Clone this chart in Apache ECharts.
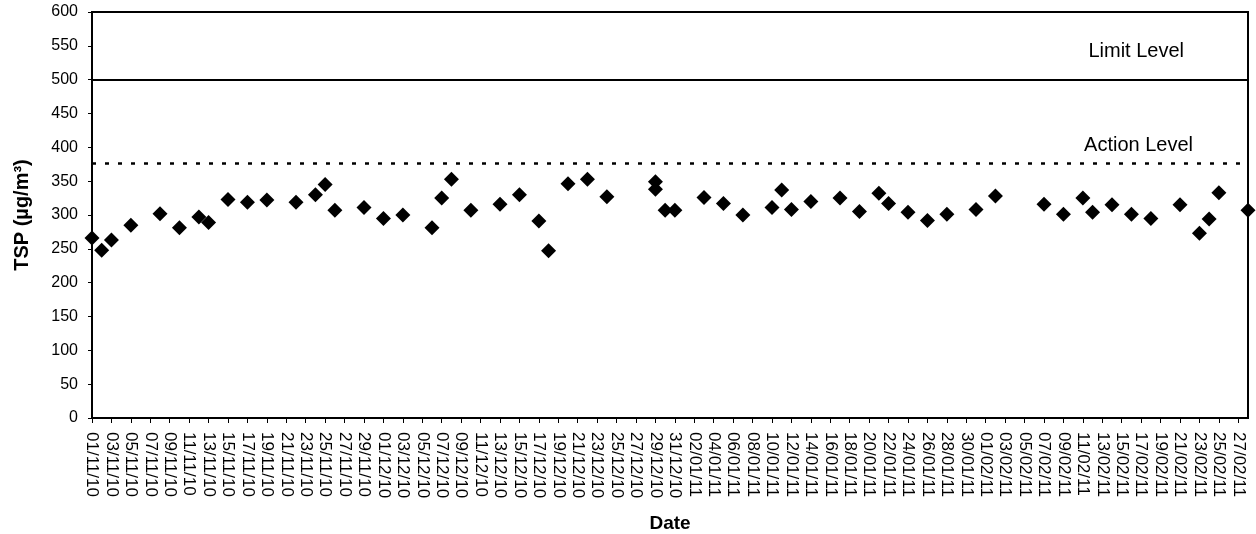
<!DOCTYPE html>
<html>
<head>
<meta charset="utf-8">
<script src="https://cdn.jsdelivr.net/npm/echarts@6/dist/echarts.min.js"></script>
<style>
  html, body { margin: 0; padding: 0; background: #fff; }
  #chart { width: 1256px; height: 534px; }
</style>
</head>
<body>
<div id="chart"></div>
<script>
  // daily category axis, 01/11/10 .. 28/02/11
  var dateCategories = [
    "01/11/10","02/11/10","03/11/10","04/11/10","05/11/10","06/11/10","07/11/10","08/11/10","09/11/10","10/11/10",
    "11/11/10","12/11/10","13/11/10","14/11/10","15/11/10","16/11/10","17/11/10","18/11/10","19/11/10","20/11/10",
    "21/11/10","22/11/10","23/11/10","24/11/10","25/11/10","26/11/10","27/11/10","28/11/10","29/11/10","30/11/10",
    "01/12/10","02/12/10","03/12/10","04/12/10","05/12/10","06/12/10","07/12/10","08/12/10","09/12/10","10/12/10",
    "11/12/10","12/12/10","13/12/10","14/12/10","15/12/10","16/12/10","17/12/10","18/12/10","19/12/10","20/12/10",
    "21/12/10","22/12/10","23/12/10","24/12/10","25/12/10","26/12/10","27/12/10","28/12/10","29/12/10","30/12/10",
    "31/12/10",
    "01/01/11","02/01/11","03/01/11","04/01/11","05/01/11","06/01/11","07/01/11","08/01/11","09/01/11","10/01/11",
    "11/01/11","12/01/11","13/01/11","14/01/11","15/01/11","16/01/11","17/01/11","18/01/11","19/01/11","20/01/11",
    "21/01/11","22/01/11","23/01/11","24/01/11","25/01/11","26/01/11","27/01/11","28/01/11","29/01/11","30/01/11",
    "31/01/11",
    "01/02/11","02/02/11","03/02/11","04/02/11","05/02/11","06/02/11","07/02/11","08/02/11","09/02/11","10/02/11",
    "11/02/11","12/02/11","13/02/11","14/02/11","15/02/11","16/02/11","17/02/11","18/02/11","19/02/11","20/02/11",
    "21/02/11","22/02/11","23/02/11","24/02/11","25/02/11","26/02/11","27/02/11","28/02/11"
  ];

  // sampling dates and measured TSP (ug/m3)
  var sampleDates = [
    "01/11/10","02/11/10","03/11/10","05/11/10","08/11/10","10/11/10","12/11/10","13/11/10","15/11/10","17/11/10",
    "19/11/10","22/11/10","24/11/10","25/11/10","26/11/10","29/11/10","01/12/10","03/12/10","06/12/10","07/12/10",
    "08/12/10","10/12/10","13/12/10","15/12/10","17/12/10","18/12/10","20/12/10","22/12/10","24/12/10","29/12/10",
    "29/12/10","30/12/10","31/12/10","03/01/11","05/01/11","07/01/11","10/01/11","11/01/11","12/01/11","14/01/11",
    "17/01/11","19/01/11","21/01/11","22/01/11","24/01/11","26/01/11","28/01/11","31/01/11","02/02/11","07/02/11",
    "09/02/11","11/02/11","12/02/11","14/02/11","16/02/11","18/02/11","21/02/11","23/02/11","24/02/11","25/02/11",
    "28/02/11"
  ];
  var tspValues = [
    266, 248, 263, 285, 302, 281, 297, 289, 323, 319,
    322, 319, 330, 345, 307, 311, 295, 300, 281, 325,
    353, 307, 316, 330, 291, 247, 346, 353, 327, 349,
    338, 307, 307, 326, 317, 300, 311, 337, 308, 320,
    325, 305, 332, 317, 304, 292, 301, 308, 328, 316,
    301, 325, 304, 315, 301, 295, 315, 273, 294, 333,
    307
  ];

  var LIMIT_LEVEL = 500;
  var ACTION_LEVEL = 376;
  var yTicks = { min: 0, max: 600, interval: 50 };

  var points = sampleDates.map(function (d, i) {
    return [d, tspValues[i]];
  });

  var chart = echarts.init(document.getElementById("chart"), null, { renderer: "canvas" });

  chart.setOption({
    backgroundColor: "#ffffff",
    animation: false,
    grid: {
      left: 92, right: 8, top: 12, bottom: 116,
      outerBoundsMode: "none",
      containLabel: false,
      show: true,
      borderColor: "#000000",
      borderWidth: 2,
      backgroundColor: "transparent"
    },
    xAxis: {
      type: "category",
      data: dateCategories,
      boundaryGap: false,
      name: "Date",
      nameLocation: "middle",
      nameGap: 96,
      nameTextStyle: { fontFamily: "Liberation Sans", fontWeight: "bold", fontSize: 19, color: "#000" },
      axisLine: { lineStyle: { color: "#000", width: 2 } },
      axisTick: { show: true, interval: 1, length: 5, lineStyle: { color: "#000", width: 1 } },
      axisLabel: {
        interval: 1,
        rotate: -90,
        margin: 14,
        fontFamily: "Liberation Sans",
        fontSize: 17,
        color: "#000"
      },
      splitLine: { show: false }
    },
    yAxis: {
      type: "value",
      min: yTicks.min,
      max: yTicks.max,
      interval: yTicks.interval,
      name: "TSP (\u00b5g/m\u00b3)",
      nameLocation: "middle",
      nameRotate: 90,
      nameGap: 60,
      nameTextStyle: { fontFamily: "Liberation Sans", fontWeight: "bold", fontSize: 20, color: "#000" },
      axisLine: { show: true, lineStyle: { color: "#000", width: 2 } },
      axisTick: { show: true, length: 4, lineStyle: { color: "#000", width: 1 } },
      axisLabel: { fontFamily: "Liberation Sans", fontSize: 16, color: "#000", margin: 14 },
      splitLine: { show: false }
    },
    series: [
      {
        type: "scatter",
        data: points,
        symbol: "diamond",
        symbolSize: 15,
        itemStyle: { color: "#000000", opacity: 1 },
        markLine: {
          silent: true,
          symbol: "none",
          animation: false,
          data: [
            {
              yAxis: LIMIT_LEVEL,
              lineStyle: { color: "#000", width: 2, type: "solid" },
              label: {
                show: true,
                position: "insideEndTop",
                formatter: "Limit Level",
                distance: [64, 18],
                fontFamily: "Liberation Sans",
                fontSize: 20,
                color: "#000"
              }
            },
            {
              yAxis: ACTION_LEVEL,
              lineStyle: { color: "#000", width: 2.5, type: [4, 9] },
              label: {
                show: true,
                position: "insideEndTop",
                formatter: "Action Level",
                distance: [55, 8],
                fontFamily: "Liberation Sans",
                fontSize: 20,
                color: "#000"
              }
            }
          ]
        }
      }
    ]
  });
</script>
</body>
</html>
